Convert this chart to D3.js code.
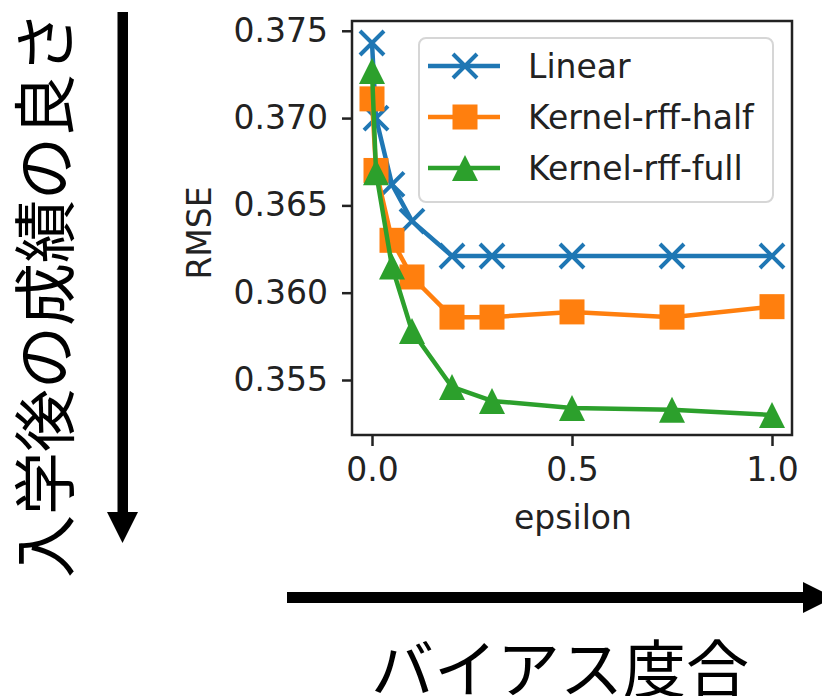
<!DOCTYPE html>
<html>
<head>
<meta charset="utf-8">
<script src="https://cdn.jsdelivr.net/npm/d3@7"></script>
<style>
  body { margin: 0; background: #fff; }
  svg { display: block; }
</style>
</head>
<body>
<div id="canvas"></div>
<script>
// data
const epsilon = [0, 0.01, 0.05, 0.1, 0.2, 0.3, 0.5, 0.75, 1.0];
const linear = [0.3743, 0.3700, 0.3662, 0.3641, 0.3621, 0.3621, 0.3621, 0.3621, 0.3621];
const rffHalf = [0.3711, 0.3670, 0.3630, 0.3609, 0.3586, 0.3586, 0.3589, 0.3586, 0.3592];
const rffFull = [0.3727, 0.3669, 0.3615, 0.3578, 0.3546, 0.3538, 0.3534, 0.3533, 0.3530];
const seriesNames = ["Linear", "Kernel-rff-half", "Kernel-rff-full"];
const seriesColors = ["#1f77b4", "#ff7f0e", "#2ca02c"];
const xTicks = [0, 0.5, 1.0];
const yTicks = [0.355, 0.360, 0.365, 0.370, 0.375];

const width = 822;
const height = 696;
const plot = { left: 352, right: 792, top: 21, bottom: 435 };

const svg = d3.select("#canvas").append("svg")
  .attr("width", width)
  .attr("height", height);

const x = d3.scaleLinear().domain([-0.05, 1.05]).range([plot.left, plot.right]);
const y = d3.scaleLinear().domain([0.35185, 0.37556]).range([plot.bottom, plot.top]);

const font = "DejaVu Sans, sans-serif";
const fs = "33px";

// axes
const gx = svg.append("g")
  .attr("transform", `translate(0,${plot.bottom})`)
  .call(d3.axisBottom(x).tickValues(xTicks).tickFormat(d3.format(".1f")).tickSize(11).tickPadding(12));
const gy = svg.append("g")
  .attr("transform", `translate(${plot.left},0)`)
  .call(d3.axisLeft(y).tickValues(yTicks).tickFormat(d3.format(".3f")).tickSize(10).tickPadding(14));

[gx, gy].forEach(g => {
  g.select(".domain").remove();
  g.selectAll(".tick line").attr("stroke", "#222").attr("stroke-width", 2.5);
  g.selectAll(".tick text")
    .attr("fill", "#222")
    .style("font-family", font)
    .style("font-size", fs);
});

// series
const rows = [linear, rffHalf, rffFull];
const line = d3.line().x(d => x(d[0])).y(d => y(d[1]));

function drawMarker(g, i, cx, cy) {
  const c = seriesColors[i];
  if (i === 0) {
    const s = 12;
    g.append("path")
      .attr("d", `M${cx - s},${cy - s}L${cx + s},${cy + s}M${cx - s},${cy + s}L${cx + s},${cy - s}`)
      .attr("stroke", c).attr("stroke-width", 4).attr("fill", "none");
  } else if (i === 1) {
    const s = 12.5;
    g.append("rect")
      .attr("x", cx - s).attr("y", cy - s)
      .attr("width", 2 * s).attr("height", 2 * s)
      .attr("fill", c);
  } else {
    const s = 13;
    g.append("path")
      .attr("d", `M${cx},${cy - s}L${cx + s},${cy + s}L${cx - s},${cy + s}Z`)
      .attr("fill", c);
  }
}

rows.forEach((vals, i) => {
  const pts = epsilon.map((e, k) => [e, vals[k]]);
  const g = svg.append("g");
  g.append("path")
    .attr("d", line(pts))
    .attr("fill", "none")
    .attr("stroke", seriesColors[i])
    .attr("stroke-width", 4.5)
    .attr("stroke-linejoin", "round");
  pts.forEach(p => drawMarker(g, i, x(p[0]), y(p[1])));
});

// frame
svg.append("rect")
  .attr("x", plot.left).attr("y", plot.top)
  .attr("width", plot.right - plot.left).attr("height", plot.bottom - plot.top)
  .attr("fill", "none").attr("stroke", "#222").attr("stroke-width", 2.5);

// legend
const legend = svg.append("g");
legend.append("rect")
  .attr("x", 419).attr("y", 38).attr("width", 354).attr("height", 164)
  .attr("rx", 7)
  .attr("fill", "#fff").attr("fill-opacity", 0.85)
  .attr("stroke", "#d6d6d6").attr("stroke-width", 2);
seriesNames.forEach((name, i) => {
  const ly = 66 + i * 51;
  legend.append("line")
    .attr("x1", 428).attr("x2", 500).attr("y1", ly).attr("y2", ly)
    .attr("stroke", seriesColors[i]).attr("stroke-width", 4.5);
  drawMarker(legend, i, 465, ly);
  legend.append("text")
    .attr("x", 528).attr("y", ly)
    .attr("dy", "0.35em")
    .attr("fill", "#222")
    .style("font-family", font)
    .style("font-size", fs)
    .text(name);
});

// axis labels
svg.append("text")
  .attr("x", 573).attr("y", 529)
  .attr("text-anchor", "middle")
  .attr("fill", "#222")
  .style("font-family", font).style("font-size", fs)
  .text("epsilon");
svg.append("text")
  .attr("transform", "translate(211,233) rotate(-90)")
  .attr("text-anchor", "middle")
  .attr("fill", "#222")
  .style("font-family", font).style("font-size", fs)
  .text("RMSE");

// annotation arrows
svg.append("rect").attr("x", 117.5).attr("y", 12).attr("width", 10.5).attr("height", 502).attr("fill", "#000");
svg.append("path").attr("d", "M107,512L138,512L122.5,543Z").attr("fill", "#000");
svg.append("rect").attr("x", 287).attr("y", 592).attr("width", 518).attr("height", 11).attr("fill", "#000");
svg.append("path").attr("d", "M803,582L803,613L834,597.5Z").attr("fill", "#000");

const jp = "Noto Sans CJK JP, sans-serif";
svg.append("text")
  .attr("transform", "translate(68,578) rotate(-90)")
  .attr("fill", "#000")
  .style("font-family", jp).style("font-size", "63px")
  .text("入学後の成績の良さ");
svg.append("text")
  .attr("x", 560).attr("y", 692)
  .attr("text-anchor", "middle")
  .attr("fill", "#000")
  .style("font-family", jp).style("font-size", "63px")
  .text("バイアス度合");
</script>
</body>
</html>
